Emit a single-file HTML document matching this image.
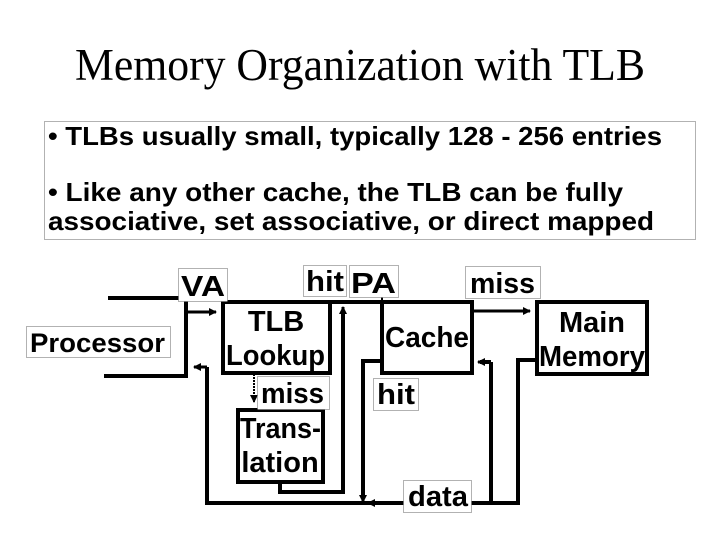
<!DOCTYPE html>
<html><head><style>
body{margin:0;background:#fff;}
svg{display:block;}
text{font-family:"Liberation Sans",Arial,sans-serif;font-weight:bold;fill:#000;}
</style></head><body>
<svg width="720" height="540" viewBox="0 0 720 540" xmlns="http://www.w3.org/2000/svg">
<defs>
<marker id="a" markerWidth="8" markerHeight="8" refX="7" refY="4" orient="auto" markerUnits="userSpaceOnUse">
<path d="M0,0 L8,4 L0,8 z" fill="#000"/></marker>
</defs>
<text x="75" y="80" textLength="570" lengthAdjust="spacingAndGlyphs" style="font-family:'Liberation Serif',serif;font-weight:normal;font-size:45px">Memory Organization with TLB</text>
<rect x="44.5" y="121.5" width="651" height="118" fill="none" stroke="#666" stroke-dasharray="1,1"/>
<text x="48" y="145" font-size="26" textLength="614" lengthAdjust="spacingAndGlyphs">• TLBs usually small, typically 128 - 256 entries</text>
<text x="48" y="201" font-size="26" textLength="575" lengthAdjust="spacingAndGlyphs">• Like any other cache, the TLB can be fully</text>
<text x="48" y="230" font-size="26" textLength="606" lengthAdjust="spacingAndGlyphs">associative, set associative, or direct mapped</text>

<g stroke="#000" stroke-width="4" fill="none">
<line x1="108" y1="298" x2="188" y2="298"/>
<line x1="104" y1="376" x2="188" y2="376"/>
<line x1="186" y1="298" x2="186" y2="376"/>
<rect x="223" y="302" width="107" height="71"/>
<rect x="238" y="410" width="85" height="72"/>
<rect x="382" y="302" width="90" height="71"/>
<rect x="537" y="302" width="110" height="72"/>
<line x1="330" y1="302" x2="382" y2="302"/>
<polyline points="280,482 280,492 343,492 343,310"/>
<polyline points="382,361 363,361 363,496"/>
<polyline points="207,367 207,503 518,503 518,360 537,360"/>
<line x1="491" y1="503" x2="491" y2="362"/>
<line x1="491" y1="362" x2="480" y2="362"/>
</g>
<g stroke="#000" stroke-width="3" fill="none">
<line x1="186" y1="312" x2="216" y2="312" marker-end="url(#a)"/>
<line x1="474" y1="311" x2="530" y2="311" marker-end="url(#a)"/>
<line x1="207" y1="367" x2="194" y2="367" marker-end="url(#a)"/>
<line x1="491" y1="362" x2="478" y2="362" marker-end="url(#a)"/>
<line x1="343" y1="320" x2="343" y2="307" marker-end="url(#a)"/>
<line x1="363" y1="490" x2="363" y2="502" marker-end="url(#a)"/>
<line x1="380" y1="503" x2="368" y2="503" marker-end="url(#a)"/>
<line x1="382" y1="296" x2="382" y2="300" stroke-width="2"/>
<line x1="254" y1="374" x2="254" y2="402" stroke-width="2" stroke-dasharray="2,1" marker-end="url(#a)"/>
</g>
<g fill="#fff" stroke="#666" stroke-dasharray="1,1">
<rect x="178.5" y="268.5" width="49" height="33"/>
<rect x="303.5" y="265.5" width="43" height="31"/>
<rect x="349.5" y="265.5" width="49" height="32"/>
<rect x="465.5" y="266.5" width="75" height="32"/>
<rect x="257.5" y="376.5" width="72" height="33"/>
<rect x="373.5" y="378.5" width="45" height="32"/>
<rect x="403.5" y="480.5" width="68" height="32"/>
<rect x="26.5" y="326.5" width="144" height="31"/>
</g>
<g font-size="29">
<text x="181" y="296" textLength="44" lengthAdjust="spacingAndGlyphs">VA</text>
<text x="306" y="291" textLength="38" lengthAdjust="spacingAndGlyphs">hit</text>
<text x="351" y="293" textLength="45" lengthAdjust="spacingAndGlyphs">PA</text>
<text x="470" y="293" textLength="65" lengthAdjust="spacingAndGlyphs">miss</text>
<text x="261" y="403" textLength="63" lengthAdjust="spacingAndGlyphs">miss</text>
<text x="377" y="404" textLength="38" lengthAdjust="spacingAndGlyphs">hit</text>
<text x="408" y="506" textLength="60" lengthAdjust="spacingAndGlyphs">data</text>
<text x="30" y="352" font-size="27" textLength="135" lengthAdjust="spacingAndGlyphs">Processor</text>
<text x="276" y="331" text-anchor="middle">TLB</text>
<text x="226" y="365" textLength="99" lengthAdjust="spacingAndGlyphs">Lookup</text>
<text x="240" y="438" textLength="81" lengthAdjust="spacingAndGlyphs">Trans-</text>
<text x="280" y="472" text-anchor="middle">lation</text>
<text x="385" y="347" textLength="84" lengthAdjust="spacingAndGlyphs">Cache</text>
<text x="592" y="332" text-anchor="middle">Main</text>
<text x="539" y="366" textLength="106" lengthAdjust="spacingAndGlyphs">Memory</text>
</g>
</svg>
</body></html>
